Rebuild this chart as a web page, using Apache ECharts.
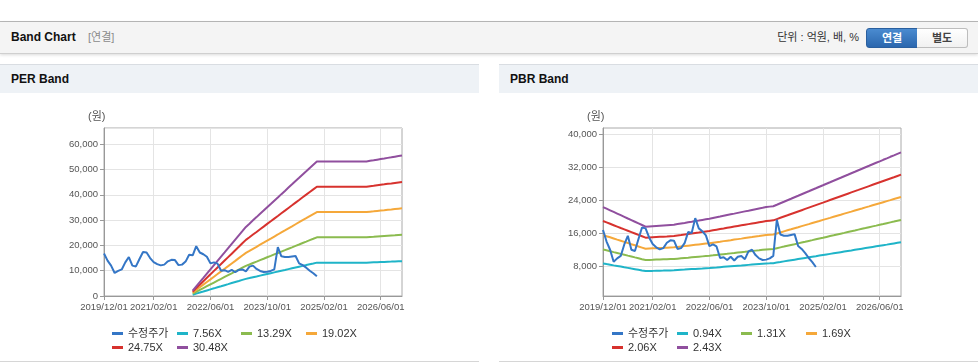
<!DOCTYPE html>
<html>
<head>
<meta charset="utf-8">
<script src="https://cdn.jsdelivr.net/npm/echarts@6/dist/echarts.min.js"></script>
<style>
html,body{margin:0;padding:0;width:978px;height:364px;background:#fff;overflow:hidden;font-family:'Liberation Sans',Arial,'Noto Sans CJK KR',sans-serif;}
.topline{position:absolute;left:0;top:21px;width:978px;height:1px;background:#b9b9b9;}
.hdr{position:absolute;left:0;top:22px;width:978px;height:31px;background:#f4f4f4;border-bottom:1px solid #cfcfcf;box-shadow:0 1px 3px rgba(0,0,0,0.15);}
.hdr .title{position:absolute;left:11px;top:0;line-height:31px;font-size:12px;font-weight:bold;color:#111;}
.hdr .sub{position:absolute;left:88px;top:0;line-height:31px;font-size:11px;color:#8a8a8a;}
.hdr .unit{position:absolute;right:119px;top:0;line-height:31px;font-size:11px;color:#333;}
.btn{position:absolute;top:6px;height:18px;line-height:18px;width:50px;text-align:center;font-size:11px;font-weight:bold;}
.btn1{left:866px;background:linear-gradient(#4a8bd0,#2b67ae);color:#fff;border:1px solid #2a5f9e;border-radius:3px 0 0 3px;}
.btn2{left:917px;background:linear-gradient(#fff,#f1f1f1);color:#444;border:1px solid #bdbdbd;border-left:none;border-radius:0 3px 3px 0;}
.panel{position:absolute;top:64px;width:479px;height:297px;border-bottom:1px solid #d6d6d6;}
.ph{height:28px;border-top:1px solid #d9dde2;background:#eef2f6;line-height:28px;padding-left:11px;font-size:12px;font-weight:bold;color:#111;}
.chart{position:absolute;left:0;top:29px;width:479px;height:268px;}
</style>
</head>
<body>
<div class="topline"></div>
<div class="hdr">
  <div class="title">Band Chart</div>
  <div class="sub">[연결]</div>
  <div class="unit">단위 : 억원, 배, %</div>
  <div class="btn btn1">연결</div>
  <div class="btn btn2">별도</div>
</div>
<div class="panel" style="left:0;">
  <div class="ph">PER Band</div>
  <div class="chart" id="per"></div>
</div>
<div class="panel" style="left:499px;">
  <div class="ph">PBR Band</div>
  <div class="chart" id="pbr"></div>
</div>
<script>
// ---------- categories & tick labels ----------
const months = [];
(function(){ let y = 2019, m = 12; while (!(y === 2027 && m === 1)) { months.push(y + '/' + String(m).padStart(2, '0') + '/01'); m++; if (m > 12) { m = 1; y++; } } })();
const tickLabels = ['2019/12/01', '2021/02/01', '2022/06/01', '2023/10/01', '2025/02/01', '2026/06/01'];
const perYTicks = [0, 10000, 20000, 30000, 40000, 50000, 60000];
const pbrYTicks = [8000, 16000, 24000, 32000, 40000];

// ---------- price (수정주가), 2019/12 .. 2024/12 ----------
const price = [16800,14000,12000,9100,9900,10500,13300,15400,12000,11700,
  14600,17400,17200,15000,13400,12600,12100,12400,13700,14300,
  14200,12200,12400,13600,16300,16100,19700,17200,16500,15500,
  12900,13300,12800,10000,10200,9500,10300,9400,10300,10500,
  9700,11600,12000,10700,9900,9500,9600,9900,10500,19300,
  15700,15400,15400,15600,15800,12900,12200,11200,10000,9000,
  7800];

// ---------- PER bands, 2022/01 .. 2026/12 ----------
const perNames = ['7.56X', '13.29X', '19.02X', '24.75X', '30.48X'];
const perStart = 25;
const per756 = [520,950,1370,1780,2200,2620,3030,3450,3860,4280,4690,5110,5530,5940,6360,6770,7090,7420,7730,8060,8380,8700,9020,9340,9660,9990,10300,10630,10950,11270,11590,11910,12230,12560,12870,
  13190,13190,13190,13190,13190,13190,13190,13190,13190,13190,13190,13190,13190,13190,13190,
  13250,13310,13370,13430,13480,13540,13590,13650,13710,13770];
const per1329 = [920,1670,2410,3140,3870,4600,5330,6060,6790,7520,8250,8980,9720,10450,11180,11910,12470,13040,13600,14170,14730,15300,15860,16430,16990,17560,18110,18690,19240,19820,20370,20950,21500,22080,22630,
  23190,23190,23190,23190,23190,23190,23190,23190,23190,23190,23190,23190,23190,23190,23190,
  23300,23390,23500,23600,23700,23800,23900,24000,24110,24200];
const per1902 = [1310,2400,3440,4490,5540,6580,7630,8670,9720,10770,11810,12860,13900,14950,16000,17040,17840,18660,19460,20280,21070,21890,22690,23510,24310,25130,25920,26740,27540,28360,29160,29980,30770,31590,32390,
  33190,33190,33190,33190,33190,33190,33190,33190,33190,33190,33190,33190,33190,33190,33190,
  33340,33480,33630,33780,33910,34070,34200,34350,34500,34640];
const per2475 = [1710,3120,4480,5840,7200,8560,9930,11290,12650,14010,15370,16730,18090,19450,20820,22180,23220,24280,25320,26380,27420,28490,29530,30590,31630,32700,33730,34800,35840,36900,37940,39010,40050,41110,42150,
  43190,43190,43190,43190,43190,43190,43190,43190,43190,43190,43190,43190,43190,43190,43190,
  43390,43560,43760,43960,44130,44330,44500,44700,44900,45070];
const per3048 = [2100,3840,5520,7190,8870,10550,12220,13900,15580,17250,18930,20600,22280,23960,25630,27310,28590,29900,31180,32490,33770,35080,36360,37670,38950,40260,41540,42860,44140,45450,46730,48040,49320,50630,51910,
  53190,53190,53190,53190,53190,53190,53190,53190,53190,53190,53190,53190,53190,53190,53190,
  53430,53650,53890,54130,54350,54590,54800,55050,55290,55500];

// ---------- PBR bands, 2019/12 .. 2026/12 ----------
const pbrNames = ['0.94X', '1.31X', '1.69X', '2.06X', '2.43X'];
const pbr094 = [8670,8510,8360,8200,8050,7900,7740,7590,7430,7280,7130,6970,
  6820,6840,6860,6890,6910,6930,6960,6980,7000,
  7060,7120,7170,7230,7290,7340,7400,7450,7510,7570,
  7640,7700,7770,7840,7910,7980,8050,8120,8180,8250,8320,8390,8460,8530,8600,8670,
  8700,8740,
  8880,9020,9170,9310,9450,9590,9730,9870,10010,10150,10290,10430,10580,10720,10860,11000,11140,11280,11420,11560,11700,11840,11990,12130,12270,12410,12550,12690,12830,12970,13110,13250,13400,13540,13680,13820];
const pbr131 = [12080,11860,11650,11430,11220,11000,10790,10570,10360,10140,9930,9710,
  9500,9530,9560,9600,9630,9660,9690,9730,9760,
  9840,9920,10000,10070,10150,10230,10310,10390,10470,10550,
  10640,10740,10830,10930,11020,11120,11210,11310,11410,11500,11600,11690,11790,11880,11980,12080,
  12130,12180,
  12380,12580,12770,12970,13170,13360,13560,13760,13950,14150,14340,14540,14740,14930,15130,15330,15520,15720,15920,16110,16310,16510,16700,16900,17100,17290,17490,17690,17880,18080,18270,18470,18670,18860,19060,19260];
const pbr169 = [15580,15300,15030,14750,14470,14200,13920,13640,13360,13090,12810,12530,
  12250,12300,12340,12380,12420,12460,12510,12550,12590,
  12690,12790,12890,13000,13100,13200,13300,13400,13500,13600,
  13730,13850,13970,14100,14220,14340,14470,14590,14710,14840,14960,15080,15210,15330,15460,15580,
  15650,15720,
  15970,16220,16480,16730,16980,17240,17490,17750,18000,18250,18510,18760,19010,19270,19520,19770,20030,20280,20530,20790,21040,21290,21550,21800,22050,22310,22560,22820,23070,23320,23580,23830,24080,24340,24590,24840];
const pbr206 = [18990,18660,18320,17980,17640,17300,16970,16630,16290,15950,15610,15280,
  14940,14990,15040,15090,15140,15190,15240,15300,15350,
  15470,15590,15720,15840,15970,16090,16210,16340,16460,16580,
  16730,16880,17030,17180,17340,17490,17640,17790,17940,18090,18240,18390,18540,18690,18840,18990,
  19080,19160,
  19470,19780,20090,20390,20700,21010,21320,21630,21940,22250,22560,22870,23180,23480,23790,24100,24410,24720,25030,25340,25650,25960,26270,26570,26880,27190,27500,27810,28120,28430,28740,29050,29360,29660,29970,30280];
const pbr243 = [22400,22010,21610,21210,20810,20410,20010,19610,19220,18820,18420,18020,
  17620,17680,17740,17800,17860,17920,17980,18040,18100,
  18250,18400,18540,18690,18830,18980,19120,19270,19420,19560,
  19740,19920,20090,20270,20450,20630,20800,20980,21160,21340,21510,21690,21870,22050,22220,22400,
  22500,22600,
  22960,23330,23690,24060,24420,24790,25150,25520,25880,26240,26610,26970,27340,27700,28070,28430,28800,29160,29520,29890,30250,30620,30980,31350,31710,32080,32440,32810,33170,33530,33900,34260,34630,34990,35360,35720];

// ---------- styling ----------
const FONT = "'Liberation Sans', Arial, 'Noto Sans CJK KR', sans-serif";
const priceName = '수정주가';
const priceColor = '#3476c6';
const bandColors = ['#1fb4c8', '#8bbb4f', '#f5a83a', '#d7322e', '#904f9e'];

function pad(arr, start) {
  const out = new Array(months.length).fill(null);
  arr.forEach((v, i) => { out[start + i] = v; });
  return out;
}
const isTick = (idx, val) => tickLabels.indexOf(val) >= 0;

function buildOption(bandNames, bandData, bandStart, yAxisCfg, legendLeft) {
  const series = [];
  bandNames.forEach((n, k) => {
    series.push({ name: n, type: 'line', data: pad(bandData[k], bandStart), symbol: 'none', showSymbol: false,
      lineStyle: { width: 2, color: bandColors[k] }, itemStyle: { color: bandColors[k] }, z: 2 });
  });
  series.push({ name: priceName, type: 'line', data: pad(price, 0), symbol: 'none', showSymbol: false,
    lineStyle: { width: 2, color: priceColor }, itemStyle: { color: priceColor }, z: 3 });
  const order = [priceName].concat(bandNames);
  const colLeft = [0, 65, 129, 194];
  const legends = order.map((n, k) => ({
    icon: 'rect', itemWidth: 11, itemHeight: 3, selectedMode: false,
    left: legendLeft + colLeft[k % 4], top: k < 4 ? 230 : 244, data: [n],
    textStyle: { fontSize: 11, color: '#333', fontFamily: FONT }
  }));
  return {
    animation: false,
    textStyle: { fontFamily: FONT },
    grid: { left: 104, top: 35, width: 298, height: 168, show: true, borderColor: '#aaa', borderWidth: 1, backgroundColor: 'transparent' },
    graphic: [{ type: 'text', left: 88, top: 18, style: { text: '(원)', fontSize: 11, fill: '#555', fontFamily: FONT } }],
    legend: legends,
    xAxis: {
      type: 'category', data: months, boundaryGap: false,
      axisLine: { lineStyle: { color: '#999' } },
      axisTick: { show: true, length: 4, interval: isTick, lineStyle: { color: '#999' } },
      axisLabel: { interval: isTick, showMinLabel: true, hideOverlap: false, color: '#555', fontSize: 9.5, margin: 7, fontFamily: FONT },
      splitLine: { show: true, interval: isTick, lineStyle: { color: '#e4e4e4' } }
    },
    yAxis: Object.assign({
      type: 'value',
      axisLine: { show: true, lineStyle: { color: '#999' } },
      splitLine: { show: true, lineStyle: { color: '#e4e4e4' } }
    }, yAxisCfg),
    series: series
  };
}

const perChart = echarts.init(document.getElementById('per'), null, { renderer: 'canvas' });
perChart.setOption(buildOption(perNames, [per756, per1329, per1902, per2475, per3048], perStart, {
  min: perYTicks[0], max: 66400, interval: perYTicks[1] - perYTicks[0],
  axisTick: { show: true, length: 4, lineStyle: { color: '#999' } },
  axisLabel: { color: '#555', fontSize: 9.5, margin: 6, showMaxLabel: false, showMinLabel: true, hideOverlap: false, fontFamily: FONT }
}, 107));

const pbrChart = echarts.init(document.getElementById('pbr'), null, { renderer: 'canvas' });
pbrChart.setOption(buildOption(pbrNames, [pbr094, pbr131, pbr169, pbr206, pbr243], 0, {
  min: 744, max: 41640,
  axisTick: { show: true, length: 4, customValues: pbrYTicks, lineStyle: { color: '#999' } },
  axisLabel: { color: '#555', fontSize: 9.5, margin: 6, customValues: pbrYTicks, fontFamily: FONT }
}, 108));
</script>
</body>
</html>
